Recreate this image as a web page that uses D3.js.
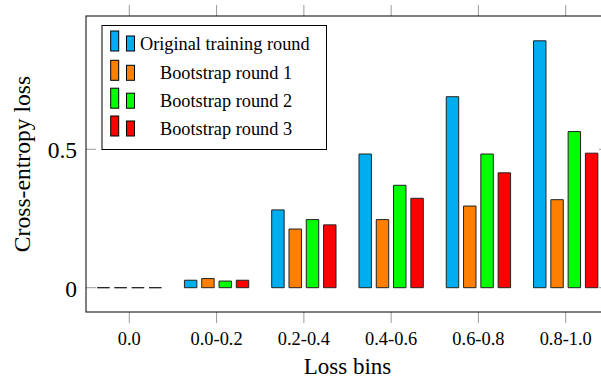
<!DOCTYPE html>
<html><head><meta charset="utf-8">
<script src="https://cdn.jsdelivr.net/npm/d3@7"></script>
<style>body{margin:0;background:#fff}svg{display:block}</style>
</head><body>
<svg id="c" width="601" height="378"></svg>
<script>
const categories = ["0.0","0.0-0.2","0.2-0.4","0.4-0.6","0.6-0.8","0.8-1.0"];
const seriesNames = ["Original training round","Bootstrap round 1","Bootstrap round 2","Bootstrap round 3"];
const original   = [0, 0.027, 0.281, 0.483, 0.690, 0.892];
const bootstrap1 = [0, 0.033, 0.212, 0.246, 0.295, 0.318];
const bootstrap2 = [0, 0.024, 0.246, 0.370, 0.483, 0.564];
const bootstrap3 = [0, 0.027, 0.227, 0.323, 0.415, 0.486];
const yTicks = [0, 0.5];
const yTickLabels = ["0", "0.5"];
const colors = ["#00aeef","#ff8000","#00ff00","#ff0000"];

const FONT = "'Liberation Serif', 'Times New Roman', serif";
const series = [original, bootstrap1, bootstrap2, bootstrap3];
const svg = d3.select("#c");
const L = 86, R = 609, T = 16, B = 312;

const x = d3.scalePoint().domain(categories).range([129.3, 565.7]);
const xs = d3.scaleBand().domain(d3.range(4)).range([-37, 37]).padding(0.28);
const y = d3.scaleLinear().domain([-0.0878, 0.9816]).range([B, T]);

function txt(sel) { return sel.append("text").style("font-family", FONT).attr("fill", "#000"); }

// bars
const g = svg.append("g");
series.forEach((vals, si) => {
  g.selectAll(null).data(vals.map((v, i) => ({v, c: categories[i]}))).enter()
    .append("path")
    .attr("d", d => {
      const x0 = x(d.c) + xs(si), w = xs.bandwidth();
      const y0 = y(0), y1 = y(d.v);
      return `M${x0},${y0}V${y1}H${x0 + w}V${y0}Z`;
    })
    .attr("fill", colors[si])
    .attr("stroke", "#222")
    .attr("stroke-width", 1);
});

// ticks
const tickColor = "#999";
categories.forEach(c => {
  svg.append("line").attr("x1", x(c)).attr("x2", x(c)).attr("y1", T - 11).attr("y2", T).attr("stroke", tickColor);
  svg.append("line").attr("x1", x(c)).attr("x2", x(c)).attr("y1", B).attr("y2", B + 11).attr("stroke", tickColor);
  txt(svg).attr("x", x(c)).attr("y", 345.3).attr("text-anchor", "middle").attr("font-size", 18.4).text(c);
});
yTicks.forEach((t, i) => {
  svg.append("line").attr("x1", L).attr("x2", L + 10).attr("y1", y(t)).attr("y2", y(t)).attr("stroke", tickColor);
  svg.append("line").attr("x1", R - 10).attr("x2", R).attr("y1", y(t)).attr("y2", y(t)).attr("stroke", tickColor);
  txt(svg).attr("x", 77).attr("y", y(t) + 9).attr("text-anchor", "end").attr("font-size", 23.5).text(yTickLabels[i]);
});

// frame
svg.append("rect").attr("x", L).attr("y", T).attr("width", R - L).attr("height", B - T)
  .attr("fill", "none").attr("stroke", "#000").attr("stroke-width", 1);

// axis labels
txt(svg).attr("x", (L + R) / 2).attr("y", 373.5).attr("text-anchor", "middle").attr("font-size", 23).text("Loss bins");
txt(svg).attr("transform", `translate(29.5,${(T + B) / 2}) rotate(-90)`).attr("text-anchor", "middle").attr("font-size", 23.6).text("Cross-entropy loss");

// legend
const lg = svg.append("g");
lg.append("rect").attr("x", 102).attr("y", 25.5).attr("width", 224.5).attr("height", 124)
  .attr("fill", "#fff").attr("stroke", "#000").attr("stroke-width", 1);
const baselines = [50, 79.3, 107.2, 135];
seriesNames.forEach((n, i) => {
  const by = baselines[i] + 1;
  lg.append("rect").attr("x", 110.7).attr("y", by - 20).attr("width", 8).attr("height", 20)
    .attr("fill", colors[i]).attr("stroke", "#000");
  lg.append("rect").attr("x", 126.5).attr("y", by - 15).attr("width", 8).attr("height", 15)
    .attr("fill", colors[i]).attr("stroke", "#000");
  txt(lg).attr("x", i === 0 ? 140 : 160).attr("y", baselines[i]).attr("font-size", 18.3).text(n);
});
</script>
</body></html>
